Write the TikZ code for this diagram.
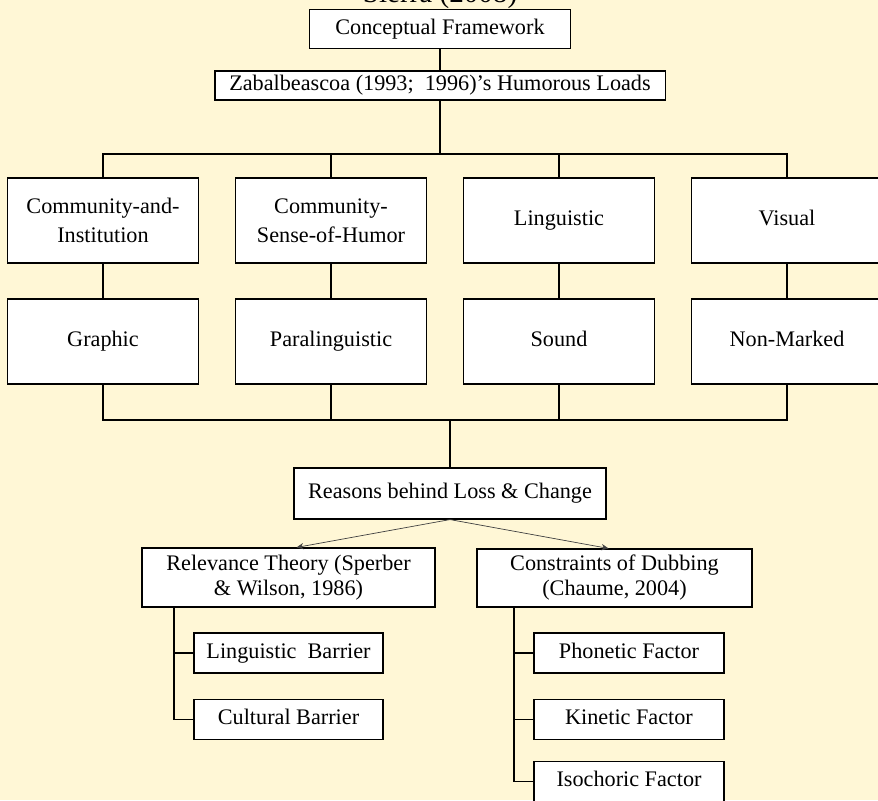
\documentclass[tikz,border=0pt]{standalone}
\usepackage{fontspec}
\setmainfont{Liberation Serif}
\usepackage{tikz}
\usetikzlibrary{arrows.meta,calc,positioning}
\definecolor{paper}{RGB}{255,247,214}
\newcommand\boxfont{\fontsize{15.8}{20.6}\selectfont}
\newcommand\lowfont{\fontsize{15.8}{17.8}\selectfont}
\tikzset{
  wire/.style      = {line width=0.8pt},
  thinarrow/.style = {-{Stealth[length=5pt,width=4.5pt]}, line width=0.5pt, black!75},
  box/.style       = {draw, line width=0.8pt, fill=white, inner sep=0pt,
                      align=center, font=\boxfont},
  oneline/.style   = {text height=0.9em, text depth=0.13em},
  loadbox/.style   = {box, minimum width=4.775cm, minimum height=2.125cm},
  leafbox/.style   = {box, oneline, minimum width=4.75cm, minimum height=1.0cm},
}

\begin{document}
\begin{tikzpicture}[x=0.025cm, y=-0.025cm]
  \fill[paper] (0,0) rectangle (878,800);
  \useasboundingbox (0,0) rectangle (878,800);

  \node[anchor=base, font=\fontsize{20.7}{24}\selectfont] (ttl) at (440,3) {Sierra (2008)};
  \node[box, oneline, minimum width=6.525cm, minimum height=0.99cm] (cf) at (440,29) {Conceptual Framework};
  \node[box, oneline, minimum width=11.25cm, minimum height=0.725cm] (zab) at (440,85.5)
       {Zabalbeascoa (1993;~ 1996)'s Humorous Loads};

  \node[loadbox] (ci) at (103,220.5) {Community-and-\\Institution};
  \node[loadbox] (cs) at (331,220.5) {Community-\\Sense-of-Humor};
  \node[loadbox, oneline] (li) at (559,220.5) {Linguistic};
  \node[loadbox, oneline] (vi) at (787,220.5) {Visual};
  \node[loadbox, oneline] (gr) at (103,341.5) {Graphic};
  \node[loadbox, oneline] (pa) at (331,341.5) {Paralinguistic};
  \node[loadbox, oneline] (so) at (559,341.5) {Sound};
  \node[loadbox, oneline] (nm) at (787,341.5) {Non-Marked};

  \node[box, oneline, minimum width=7.8cm, minimum height=1.275cm] (rs) at (450,493.5) {Reasons behind Loss \& Change};
  \node[box, font=\lowfont, minimum width=7.325cm, minimum height=1.475cm] (rt) at (288.5,577.5)
       {Relevance Theory (Sperber\\\& Wilson, 1986)};
  \node[box, font=\lowfont, minimum width=6.875cm, minimum height=1.45cm] (cd) at (614.5,578)
       {Constraints of Dubbing\\(Chaume, 2004)};

  \node[leafbox, minimum width=4.725cm] (lb) at (288.5,653)   {Linguistic~ Barrier};
  \node[leafbox, minimum width=4.725cm] (cb) at (288.5,719.5) {Cultural Barrier};
  \node[leafbox] (pf) at (629,653)   {Phonetic Factor};
  \node[leafbox] (kf) at (629,719.5) {Kinetic Factor};
  \node[leafbox] (if) at (629,781.5) {Isochoric Factor};

  \coordinate (topbus) at (440,154);
  \coordinate (botbus) at (450,420);
  \coordinate (rtspine) at (174,607);
  \coordinate (cdspine) at (514,607);

  \draw[wire] (cf) -- (zab);
  \draw[wire] (zab) -- (topbus);
  \foreach \n in {ci,cs,li,vi}
    \draw[wire] (\n.north) |- (topbus);
  \draw[wire] (ci) -- (gr);
  \draw[wire] (cs) -- (pa);
  \draw[wire] (li) -- (so);
  \draw[wire] (vi) -- (nm);
  \foreach \n in {gr,pa,so,nm}
    \draw[wire] (\n.south) |- (botbus);
  \draw[wire] (botbus) -- (rs);

  \draw[thinarrow] (rs.south) -- ($(rt.north)+(8,0)$);
  \draw[thinarrow] (rs.south) -- ($(cd.north)+(-6,0)$);

  \foreach \n in {lb,cb}
    \draw[wire] (rtspine) |- (\n.west);
  \foreach \n in {pf,kf,if}
    \draw[wire] (cdspine) |- (\n.west);
\end{tikzpicture}
\end{document}
